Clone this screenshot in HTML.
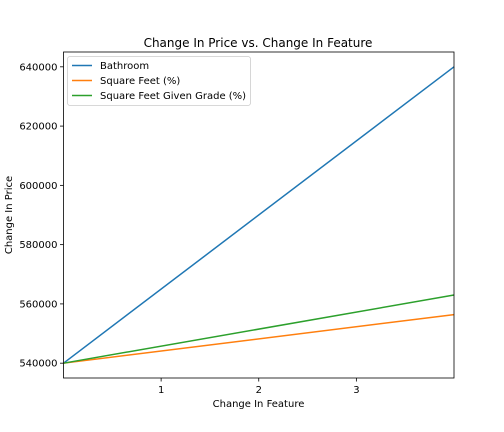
<!DOCTYPE html>
<html><head><meta charset="utf-8"><style>
body{margin:0;background:#fff;}
svg{display:block;font-family:"DejaVu Sans","Liberation Sans",sans-serif;}
</style></head><body>
<svg id="chart" width="504" height="432">
<rect width="504" height="432" fill="#fff"/>
<text x="258" y="47" text-anchor="middle" font-size="12">Change In Price vs. Change In Feature</text>
<text x="258.5" y="407" text-anchor="middle" font-size="10">Change In Feature</text>
<text transform="translate(12,215) rotate(-90)" text-anchor="middle" font-size="10">Change In Price</text>
<g id="plot"></g>
</svg>
<script>
const xTicks=[1,2,3];
const yTicks=[540000,560000,580000,600000,620000,640000];
const seriesNames=["Bathroom","Square Feet (%)","Square Feet Given Grade (%)"];
const seriesX=[0,4];
const bathroom=[540000,640000];
const sqft=[540000,556400];
const sqftGrade=[540000,563000];
const colors=["#1f77b4","#ff7f0e","#2ca02c"];
const L=63.5,R=454,T=52,B=378;
const xMin=0,xMax=4,yMin=535000,yMax=645000;
const sx=v=>L+(v-xMin)/(xMax-xMin)*(R-L);
const sy=v=>B-(v-yMin)/(yMax-yMin)*(B-T);
const NS="http://www.w3.org/2000/svg";
const g=document.getElementById('plot');
function mk(t,a,p){const e=document.createElementNS(NS,t);for(const k in a)e.setAttribute(k,a[k]);(p||g).appendChild(e);return e;}
xTicks.forEach(v=>{
 const l=mk('line',{x1:sx(v),x2:sx(v),y1:B,y2:B+3.5,stroke:'#000','stroke-width':0.8});
 
 
 const t=mk('text',{x:sx(v),y:B+15,'text-anchor':'middle','font-size':10});t.textContent=v;
 
 
});
yTicks.forEach(v=>{
 const l=mk('line',{x1:L-3.5,x2:L,y1:sy(v),y2:sy(v),stroke:'#000','stroke-width':0.8});
 
 
 const t=mk('text',{x:L-6,y:sy(v)+3.5,'text-anchor':'end','font-size':10});t.textContent=v;
 
 
});
[bathroom,sqft,sqftGrade].forEach((s,i)=>{
 const pts=s.map((v,j)=>sx(seriesX[j])+','+sy(v)).join(' ');
 const p=mk('polyline',{points:pts,fill:'none',stroke:colors[i],'stroke-width':1.5});
 
 
});
const fr=mk('rect',{x:L,y:T,width:R-L,height:B-T,fill:'none',stroke:'#000','stroke-width':0.8});


const lg=mk('g',{});


mk('rect',{x:67.5,y:56.5,width:183,height:49,rx:2.5,fill:'#fff',stroke:'#ccc','stroke-width':0.8},lg);
seriesNames.forEach((n,i)=>{
 const y=65.5+i*15;
 const l=mk('line',{x1:72,x2:92,y1:y,y2:y,stroke:colors[i],'stroke-width':1.5},lg);
 
 
 const t=mk('text',{x:100,y:y+3.5,'font-size':10},lg);t.textContent=n;
 
 
});
</script>
</body></html>
